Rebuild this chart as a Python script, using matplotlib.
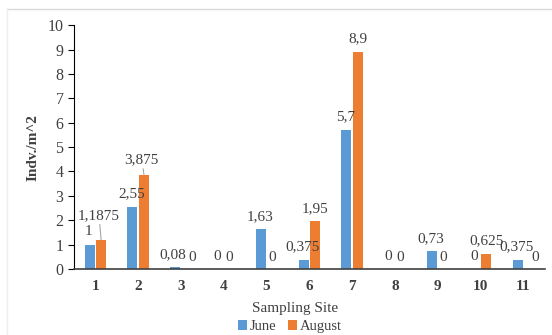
import numpy as np
import matplotlib
matplotlib.use("Agg")
import matplotlib.pyplot as plt

sites = ['1', '2', '3', '4', '5', '6', '7', '8', '9', '10', '11']
june = [1, 2.55, 0.08, 0, 1.63, 0.375, 5.7, 0, 0.73, 0, 0.375]
august = [1.1875, 3.875, 0, 0, 0, 1.95, 8.9, 0, 0, 0.625, 0]

plt.rcParams['font.family'] = ['Liberation Serif', 'DejaVu Serif']

blue = '#5B9BD5'
orange = '#ED7D31'
txt = '#404040'

fig = plt.figure(figsize=(5.52, 3.35), dpi=100)
ax = fig.add_axes([0.134, 0.197, 0.853, 0.728])

X = np.arange(len(sites))
w = 0.23
ax.bar(X - w / 2 - 0.02, june, width=w, color=blue, label='June')
ax.bar(X + w / 2 + 0.02, august, width=w, color=orange, label='August')


def fmt(v):
    return ('%g' % v).replace('.', ',')


# value labels
for i, v in enumerate(june):
    if v == 0:
        dx = -0.16
    elif v < 0.2:
        dx = -0.2
    else:
        dx = -w / 2 - 0.04
    ax.text(X[i] + dx, v + 0.26, fmt(v), ha='center', va='bottom',
            fontsize=11, color=txt)
for i, v in enumerate(august):
    if i in (0, 1):
        # label lifted with a leader line
        ax.annotate(fmt(v), xy=(X[i] + w / 2 + 0.02, v),
                    xytext=(X[i] + w / 2 - 0.03, v + (0.75 if i == 0 else 0.35)),
                    ha='center', va='bottom', fontsize=11, color=txt,
                    arrowprops=dict(arrowstyle='-', color='#A6A6A6', lw=0.8,
                                    shrinkA=0, shrinkB=0))
    elif v == 0:
        dx = 0.27 if 0 < june[i] < 0.5 else 0.13
        ax.text(X[i] + dx, v + 0.2, fmt(v), ha='center', va='bottom',
                fontsize=11, color=txt)
    else:
        ax.text(X[i] + w / 2 + 0.02, v + 0.26, fmt(v), ha='center', va='bottom',
                fontsize=11, color=txt)

ax.set_xlim(-0.5, 10.5)
ax.set_ylim(0, 10)
ax.set_yticks(range(0, 11))
ax.set_xticks(X)
ax.set_xticklabels(sites, fontweight='bold', fontsize=11, color=txt)
ax.tick_params(axis='x', length=0, pad=8)
ax.tick_params(axis='y', length=4, direction='out', labelsize=11.5, labelcolor=txt, color='#000000')

ax.spines['top'].set_visible(False)
ax.spines['right'].set_visible(False)
ax.spines['left'].set_color('#000000')
ax.spines['bottom'].set_color('#404040')
ax.spines['bottom'].set_linewidth(1.2)

ax.set_ylabel('Indv./m^2', fontweight='bold', fontsize=11, color=txt, labelpad=6)
ax.set_xlabel('Sampling Site', fontsize=11, color=txt)
ax.xaxis.set_label_coords(0.47, -0.135)

fig.legend(handles=ax.containers, labels=['June', 'August'], loc='center',
           bbox_to_anchor=(0.525, 0.025), ncol=2, frameon=False,
           fontsize=10.5, handlelength=0.6, handleheight=0.6, handletextpad=0.2,
           columnspacing=0.8, labelcolor=txt, borderpad=0)

fig.add_artist(plt.Line2D([7 / 552, 1], [1 - 9 / 335, 1 - 9 / 335],
                          color='#D9D9D9', lw=1, transform=fig.transFigure))
fig.add_artist(plt.Line2D([7 / 552, 7 / 552], [0, 1 - 9 / 335],
                          color='#EEEEEE', lw=1, transform=fig.transFigure))

fig.savefig('out.png', dpi=100)
